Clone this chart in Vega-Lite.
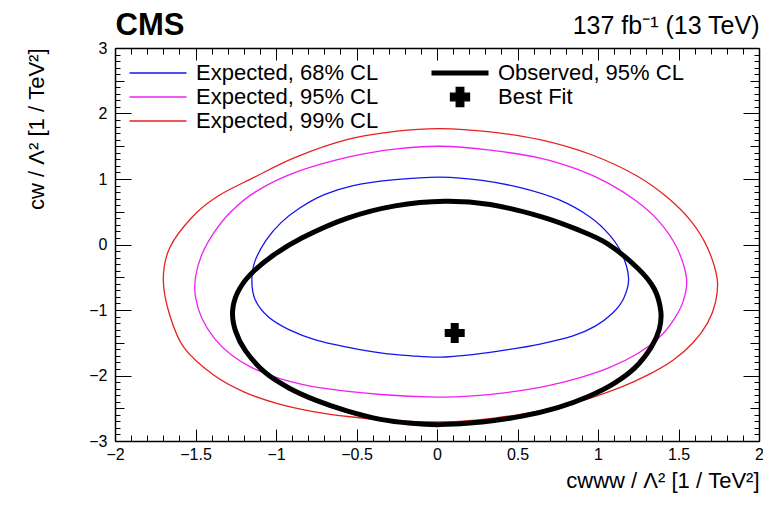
{
  "$schema": "https://vega.github.io/schema/vega-lite/v6.json",
  "width": 644,
  "height": 393,
  "autosize": {"type": "none"},
  "padding": {"left": 115, "top": 48, "right": 4, "bottom": 71},
  "background": "white",
  "config": {
    "view": {"stroke": null},
    "font": "Liberation Sans",
    "axis": {
      "grid": false,
      "domainColor": "black",
      "labelColor": "black",
      "labelFont": "Liberation Sans",
      "labelFontSize": 16,
      "titleColor": "black",
      "titleFont": "Liberation Sans",
      "titleFontWeight": "normal"
    }
  },
  "datasets": {
    "contours": [
      {"series": "Expected, 68% CL", "order": 1, "x": 0.02, "y": 1.03},
      {"series": "Expected, 68% CL", "order": 2, "x": 0.28, "y": 0.98},
      {"series": "Expected, 68% CL", "order": 3, "x": 0.53, "y": 0.86},
      {"series": "Expected, 68% CL", "order": 4, "x": 0.76, "y": 0.68},
      {"series": "Expected, 68% CL", "order": 5, "x": 0.95, "y": 0.42},
      {"series": "Expected, 68% CL", "order": 6, "x": 1.07, "y": 0.15},
      {"series": "Expected, 68% CL", "order": 7, "x": 1.15, "y": -0.15},
      {"series": "Expected, 68% CL", "order": 8, "x": 1.19, "y": -0.52},
      {"series": "Expected, 68% CL", "order": 9, "x": 1.16, "y": -0.82},
      {"series": "Expected, 68% CL", "order": 10, "x": 1.09, "y": -1.05},
      {"series": "Expected, 68% CL", "order": 11, "x": 0.98, "y": -1.25},
      {"series": "Expected, 68% CL", "order": 12, "x": 0.84, "y": -1.4},
      {"series": "Expected, 68% CL", "order": 13, "x": 0.64, "y": -1.52},
      {"series": "Expected, 68% CL", "order": 14, "x": 0.43, "y": -1.61},
      {"series": "Expected, 68% CL", "order": 15, "x": 0.22, "y": -1.68},
      {"series": "Expected, 68% CL", "order": 16, "x": 0.02, "y": -1.72},
      {"series": "Expected, 68% CL", "order": 17, "x": -0.16, "y": -1.7},
      {"series": "Expected, 68% CL", "order": 18, "x": -0.34, "y": -1.66},
      {"series": "Expected, 68% CL", "order": 19, "x": -0.55, "y": -1.57},
      {"series": "Expected, 68% CL", "order": 20, "x": -0.75, "y": -1.46},
      {"series": "Expected, 68% CL", "order": 21, "x": -0.92, "y": -1.3},
      {"series": "Expected, 68% CL", "order": 22, "x": -1.05, "y": -1.1},
      {"series": "Expected, 68% CL", "order": 23, "x": -1.13, "y": -0.84},
      {"series": "Expected, 68% CL", "order": 24, "x": -1.15, "y": -0.54},
      {"series": "Expected, 68% CL", "order": 25, "x": -1.13, "y": -0.25},
      {"series": "Expected, 68% CL", "order": 26, "x": -1.06, "y": 0.07},
      {"series": "Expected, 68% CL", "order": 27, "x": -0.97, "y": 0.33},
      {"series": "Expected, 68% CL", "order": 28, "x": -0.85, "y": 0.56},
      {"series": "Expected, 68% CL", "order": 29, "x": -0.7, "y": 0.76},
      {"series": "Expected, 68% CL", "order": 30, "x": -0.52, "y": 0.9},
      {"series": "Expected, 68% CL", "order": 31, "x": -0.26, "y": 0.99},

      {"series": "Expected, 95% CL", "order": 1, "x": 0.02, "y": 1.5},
      {"series": "Expected, 95% CL", "order": 2, "x": 0.33, "y": 1.44},
      {"series": "Expected, 95% CL", "order": 3, "x": 0.64, "y": 1.32},
      {"series": "Expected, 95% CL", "order": 4, "x": 0.87, "y": 1.15},
      {"series": "Expected, 95% CL", "order": 5, "x": 1.06, "y": 0.94},
      {"series": "Expected, 95% CL", "order": 6, "x": 1.24, "y": 0.66},
      {"series": "Expected, 95% CL", "order": 7, "x": 1.38, "y": 0.35},
      {"series": "Expected, 95% CL", "order": 8, "x": 1.49, "y": -0.05},
      {"series": "Expected, 95% CL", "order": 9, "x": 1.55, "y": -0.52},
      {"series": "Expected, 95% CL", "order": 10, "x": 1.53, "y": -0.86},
      {"series": "Expected, 95% CL", "order": 11, "x": 1.47, "y": -1.15},
      {"series": "Expected, 95% CL", "order": 12, "x": 1.38, "y": -1.42},
      {"series": "Expected, 95% CL", "order": 13, "x": 1.25, "y": -1.66},
      {"series": "Expected, 95% CL", "order": 14, "x": 1.07, "y": -1.88},
      {"series": "Expected, 95% CL", "order": 15, "x": 0.85, "y": -2.06},
      {"series": "Expected, 95% CL", "order": 16, "x": 0.64, "y": -2.18},
      {"series": "Expected, 95% CL", "order": 17, "x": 0.43, "y": -2.26},
      {"series": "Expected, 95% CL", "order": 18, "x": 0.22, "y": -2.31},
      {"series": "Expected, 95% CL", "order": 19, "x": 0.0, "y": -2.33},
      {"series": "Expected, 95% CL", "order": 20, "x": -0.35, "y": -2.29},
      {"series": "Expected, 95% CL", "order": 21, "x": -0.72, "y": -2.19},
      {"series": "Expected, 95% CL", "order": 22, "x": -0.97, "y": -2.05},
      {"series": "Expected, 95% CL", "order": 23, "x": -1.15, "y": -1.88},
      {"series": "Expected, 95% CL", "order": 24, "x": -1.28, "y": -1.68},
      {"series": "Expected, 95% CL", "order": 25, "x": -1.38, "y": -1.44},
      {"series": "Expected, 95% CL", "order": 26, "x": -1.46, "y": -1.13},
      {"series": "Expected, 95% CL", "order": 27, "x": -1.5, "y": -0.8},
      {"series": "Expected, 95% CL", "order": 28, "x": -1.5, "y": -0.5},
      {"series": "Expected, 95% CL", "order": 29, "x": -1.46, "y": -0.15},
      {"series": "Expected, 95% CL", "order": 30, "x": -1.38, "y": 0.2},
      {"series": "Expected, 95% CL", "order": 31, "x": -1.28, "y": 0.5},
      {"series": "Expected, 95% CL", "order": 32, "x": -1.13, "y": 0.8},
      {"series": "Expected, 95% CL", "order": 33, "x": -0.88, "y": 1.1},
      {"series": "Expected, 95% CL", "order": 34, "x": -0.54, "y": 1.34},
      {"series": "Expected, 95% CL", "order": 35, "x": -0.25, "y": 1.46},

      {"series": "Expected, 99% CL", "order": 1, "x": 0.02, "y": 1.77},
      {"series": "Expected, 99% CL", "order": 2, "x": 0.33, "y": 1.72},
      {"series": "Expected, 99% CL", "order": 3, "x": 0.64, "y": 1.6},
      {"series": "Expected, 99% CL", "order": 4, "x": 0.96, "y": 1.37},
      {"series": "Expected, 99% CL", "order": 5, "x": 1.24, "y": 1.05},
      {"series": "Expected, 99% CL", "order": 6, "x": 1.43, "y": 0.72},
      {"series": "Expected, 99% CL", "order": 7, "x": 1.58, "y": 0.35},
      {"series": "Expected, 99% CL", "order": 8, "x": 1.68, "y": -0.05},
      {"series": "Expected, 99% CL", "order": 9, "x": 1.74, "y": -0.52},
      {"series": "Expected, 99% CL", "order": 10, "x": 1.73, "y": -0.88},
      {"series": "Expected, 99% CL", "order": 11, "x": 1.68, "y": -1.2},
      {"series": "Expected, 99% CL", "order": 12, "x": 1.59, "y": -1.5},
      {"series": "Expected, 99% CL", "order": 13, "x": 1.47, "y": -1.76},
      {"series": "Expected, 99% CL", "order": 14, "x": 1.32, "y": -1.98},
      {"series": "Expected, 99% CL", "order": 15, "x": 1.14, "y": -2.18},
      {"series": "Expected, 99% CL", "order": 16, "x": 0.85, "y": -2.42},
      {"series": "Expected, 99% CL", "order": 17, "x": 0.5, "y": -2.6},
      {"series": "Expected, 99% CL", "order": 18, "x": 0.24, "y": -2.68},
      {"series": "Expected, 99% CL", "order": 19, "x": 0.0, "y": -2.71},
      {"series": "Expected, 99% CL", "order": 20, "x": -0.27, "y": -2.69},
      {"series": "Expected, 99% CL", "order": 21, "x": -0.54, "y": -2.63},
      {"series": "Expected, 99% CL", "order": 22, "x": -0.77, "y": -2.55},
      {"series": "Expected, 99% CL", "order": 23, "x": -0.99, "y": -2.43},
      {"series": "Expected, 99% CL", "order": 24, "x": -1.2, "y": -2.25},
      {"series": "Expected, 99% CL", "order": 25, "x": -1.39, "y": -1.99},
      {"series": "Expected, 99% CL", "order": 26, "x": -1.57, "y": -1.58},
      {"series": "Expected, 99% CL", "order": 27, "x": -1.66, "y": -1.08},
      {"series": "Expected, 99% CL", "order": 28, "x": -1.7, "y": -0.54},
      {"series": "Expected, 99% CL", "order": 29, "x": -1.66, "y": -0.05},
      {"series": "Expected, 99% CL", "order": 30, "x": -1.52, "y": 0.42},
      {"series": "Expected, 99% CL", "order": 31, "x": -1.36, "y": 0.74},
      {"series": "Expected, 99% CL", "order": 32, "x": -1.14, "y": 1.02},
      {"series": "Expected, 99% CL", "order": 33, "x": -0.88, "y": 1.33},
      {"series": "Expected, 99% CL", "order": 34, "x": -0.56, "y": 1.6},
      {"series": "Expected, 99% CL", "order": 35, "x": -0.25, "y": 1.73},

      {"series": "Observed, 95% CL", "order": 1, "x": 0.05, "y": 0.66},
      {"series": "Observed, 95% CL", "order": 2, "x": 0.33, "y": 0.61},
      {"series": "Observed, 95% CL", "order": 3, "x": 0.64, "y": 0.43},
      {"series": "Observed, 95% CL", "order": 4, "x": 0.87, "y": 0.23},
      {"series": "Observed, 95% CL", "order": 5, "x": 1.06, "y": 0.01},
      {"series": "Observed, 95% CL", "order": 6, "x": 1.25, "y": -0.37},
      {"series": "Observed, 95% CL", "order": 7, "x": 1.35, "y": -0.68},
      {"series": "Observed, 95% CL", "order": 8, "x": 1.39, "y": -1.02},
      {"series": "Observed, 95% CL", "order": 9, "x": 1.38, "y": -1.3},
      {"series": "Observed, 95% CL", "order": 10, "x": 1.33, "y": -1.57},
      {"series": "Observed, 95% CL", "order": 11, "x": 1.23, "y": -1.88},
      {"series": "Observed, 95% CL", "order": 12, "x": 1.1, "y": -2.12},
      {"series": "Observed, 95% CL", "order": 13, "x": 0.94, "y": -2.32},
      {"series": "Observed, 95% CL", "order": 14, "x": 0.75, "y": -2.49},
      {"series": "Observed, 95% CL", "order": 15, "x": 0.53, "y": -2.62},
      {"series": "Observed, 95% CL", "order": 16, "x": 0.28, "y": -2.71},
      {"series": "Observed, 95% CL", "order": 17, "x": 0.02, "y": -2.75},
      {"series": "Observed, 95% CL", "order": 18, "x": -0.16, "y": -2.73},
      {"series": "Observed, 95% CL", "order": 19, "x": -0.35, "y": -2.67},
      {"series": "Observed, 95% CL", "order": 20, "x": -0.56, "y": -2.54},
      {"series": "Observed, 95% CL", "order": 21, "x": -0.75, "y": -2.38},
      {"series": "Observed, 95% CL", "order": 22, "x": -0.92, "y": -2.19},
      {"series": "Observed, 95% CL", "order": 23, "x": -1.07, "y": -1.95},
      {"series": "Observed, 95% CL", "order": 24, "x": -1.19, "y": -1.62},
      {"series": "Observed, 95% CL", "order": 25, "x": -1.25, "y": -1.33},
      {"series": "Observed, 95% CL", "order": 26, "x": -1.27, "y": -1.03},
      {"series": "Observed, 95% CL", "order": 27, "x": -1.24, "y": -0.74},
      {"series": "Observed, 95% CL", "order": 28, "x": -1.16, "y": -0.46},
      {"series": "Observed, 95% CL", "order": 29, "x": -1.02, "y": -0.17},
      {"series": "Observed, 95% CL", "order": 30, "x": -0.84, "y": 0.1},
      {"series": "Observed, 95% CL", "order": 31, "x": -0.56, "y": 0.4},
      {"series": "Observed, 95% CL", "order": 32, "x": -0.26, "y": 0.59}
    ],
    "bestfit": [
      {"series": "Best Fit", "x": 0.11, "y": -1.35}
    ]
  },
  "layer": [
    {
      "data": {"name": "contours"},
      "transform": [{"filter": "datum.series !== 'Observed, 95% CL'"}],
      "mark": {"type": "line", "interpolate": "cardinal-closed", "strokeWidth": 1.3},
      "encoding": {
        "x": {
          "field": "x",
          "type": "quantitative",
          "scale": {"domain": [-2, 2], "nice": false, "zero": false},
          "axis": {
            "orient": "bottom",
            "tickColor": "black",
            "domainWidth": 1.5,
            "labelFlush": false,
            "values": [-2, -1.9, -1.8, -1.7, -1.6, -1.5, -1.4, -1.3, -1.2, -1.1, -1, -0.9, -0.8, -0.7, -0.6, -0.5, -0.4, -0.3, -0.2, -0.1, 0, 0.1, 0.2, 0.3, 0.4, 0.5, 0.6, 0.7, 0.8, 0.9, 1, 1.1, 1.2, 1.3, 1.4, 1.5, 1.6, 1.7, 1.8, 1.9, 2],
            "format": "~g",
            "tickSize": {"condition": {"test": "abs(datum.value * 2 - round(datum.value * 2)) < 0.001", "value": -12}, "value": -6},
            "labelExpr": "abs(datum.value * 2 - round(datum.value * 2)) < 0.001 ? datum.label : ''",
            "labelPadding": 17,
            "title": "cᴡᴡᴡ / Λ²  [1 / TeV²]",
            "titleAnchor": "end",
            "titleFontSize": 22,
            "titlePadding": 8
          }
        },
        "y": {
          "field": "y",
          "type": "quantitative",
          "scale": {"domain": [-3, 3], "nice": false, "zero": false},
          "axis": {
            "orient": "left",
            "tickColor": "black",
            "domainWidth": 1.5,
            "values": [-3, -2.9, -2.8, -2.7, -2.6, -2.5, -2.4, -2.3, -2.2, -2.1, -2, -1.9, -1.8, -1.7, -1.6, -1.5, -1.4, -1.3, -1.2, -1.1, -1, -0.9, -0.8, -0.7, -0.6, -0.5, -0.4, -0.3, -0.2, -0.1, 0, 0.1, 0.2, 0.3, 0.4, 0.5, 0.6, 0.7, 0.8, 0.9, 1, 1.1, 1.2, 1.3, 1.4, 1.5, 1.6, 1.7, 1.8, 1.9, 2, 2.1, 2.2, 2.3, 2.4, 2.5, 2.6, 2.7, 2.8, 2.9, 3],
            "format": "~g",
            "tickSize": {"condition": [{"test": "abs(datum.value - round(datum.value)) < 0.001", "value": -16}, {"test": "abs(datum.value * 2 - round(datum.value * 2)) < 0.001", "value": -9}], "value": -5},
            "labelExpr": "abs(datum.value - round(datum.value)) < 0.001 ? datum.label : ''",
            "labelPadding": 24,
            "title": "cᴡ / Λ²  [1 / TeV²]",
            "titleAnchor": "end",
            "titleFontSize": 22,
            "titlePadding": 40
          }
        },
        "color": {
          "field": "series",
          "type": "nominal",
          "scale": {
            "domain": ["Expected, 68% CL", "Expected, 95% CL", "Expected, 99% CL", "Observed, 95% CL", "Best Fit"],
            "range": ["#1414f0", "#f020f0", "#e82020", "#000000", "#000000"]
          },
          "legend": {
            "title": null,
            "orient": "none",
            "legendX": 32,
            "legendY": 14,
            "columns": 2,
            "columnPadding": 42,
            "rowPadding": 0,
            "padding": 0,
            "gridAlign": "each",
            "symbolType": "M-3,0H3",
            "symbolSize": 361,
            "symbolStrokeWidth": 1.3,
            "labelFont": "Liberation Sans",
            "labelFontSize": 22,
            "labelColor": "black",
            "labelLimit": 400,
            "labelOffset": 27,
            "encode": {
              "symbols": {
                "update": {
                  "shape": {"signal": "datum.value === 'Best Fit' ? 'cross' : 'M-3,0H3'"},
                  "strokeWidth": {"signal": "(datum.value === 'Observed, 95% CL' ? 5 : 1.3)"},
                  "fill": {"signal": "datum.value === 'Best Fit' ? 'black' : 'transparent'"}
                }
              }
            }
          }
        },
        "order": {"field": "order", "type": "quantitative"}
      }
    },
    {
      "data": {"name": "contours"},
      "transform": [{"filter": "datum.series === 'Observed, 95% CL'"}],
      "mark": {"type": "line", "interpolate": "cardinal-closed", "strokeWidth": 5},
      "encoding": {
        "x": {
          "field": "x",
          "type": "quantitative",
          "axis": {
            "orient": "top",
            "tickColor": "black",
            "domainWidth": 1.5,
            "values": [-2, -1.9, -1.8, -1.7, -1.6, -1.5, -1.4, -1.3, -1.2, -1.1, -1, -0.9, -0.8, -0.7, -0.6, -0.5, -0.4, -0.3, -0.2, -0.1, 0, 0.1, 0.2, 0.3, 0.4, 0.5, 0.6, 0.7, 0.8, 0.9, 1, 1.1, 1.2, 1.3, 1.4, 1.5, 1.6, 1.7, 1.8, 1.9, 2],
            "tickSize": {"condition": {"test": "abs(datum.value * 2 - round(datum.value * 2)) < 0.001", "value": -12}, "value": -6},
            "labels": false,
            "title": "137 fb⁻¹ (13 TeV)",
            "titleAnchor": "end",
            "titleFontSize": 25,
            "titleBaseline": "alphabetic",
            "titlePadding": 14
          }
        },
        "y": {
          "field": "y",
          "type": "quantitative",
          "axis": {
            "orient": "right",
            "tickColor": "black",
            "domainWidth": 1.5,
            "values": [-3, -2.9, -2.8, -2.7, -2.6, -2.5, -2.4, -2.3, -2.2, -2.1, -2, -1.9, -1.8, -1.7, -1.6, -1.5, -1.4, -1.3, -1.2, -1.1, -1, -0.9, -0.8, -0.7, -0.6, -0.5, -0.4, -0.3, -0.2, -0.1, 0, 0.1, 0.2, 0.3, 0.4, 0.5, 0.6, 0.7, 0.8, 0.9, 1, 1.1, 1.2, 1.3, 1.4, 1.5, 1.6, 1.7, 1.8, 1.9, 2, 2.1, 2.2, 2.3, 2.4, 2.5, 2.6, 2.7, 2.8, 2.9, 3],
            "tickSize": {"condition": [{"test": "abs(datum.value - round(datum.value)) < 0.001", "value": -16}, {"test": "abs(datum.value * 2 - round(datum.value * 2)) < 0.001", "value": -9}], "value": -5},
            "labels": false,
            "title": null
          }
        },
        "color": {"field": "series", "type": "nominal"},
        "order": {"field": "order", "type": "quantitative"}
      }
    },
    {
      "data": {"name": "bestfit"},
      "mark": {"type": "point", "shape": "cross", "filled": true, "size": 400, "opacity": 1},
      "encoding": {
        "x": {
          "field": "x",
          "type": "quantitative",
          "axis": {
            "orient": "top",
            "domain": false,
            "ticks": false,
            "labels": false,
            "title": "CMS",
            "titleAnchor": "start",
            "titleFontSize": 31,
            "titleFontWeight": "bold",
            "titleBaseline": "alphabetic",
            "titlePadding": 14
          }
        },
        "y": {"field": "y", "type": "quantitative", "axis": null},
        "color": {"field": "series", "type": "nominal"}
      }
    }
  ],
  "resolve": {"axis": {"x": "independent", "y": "independent"}}
}
